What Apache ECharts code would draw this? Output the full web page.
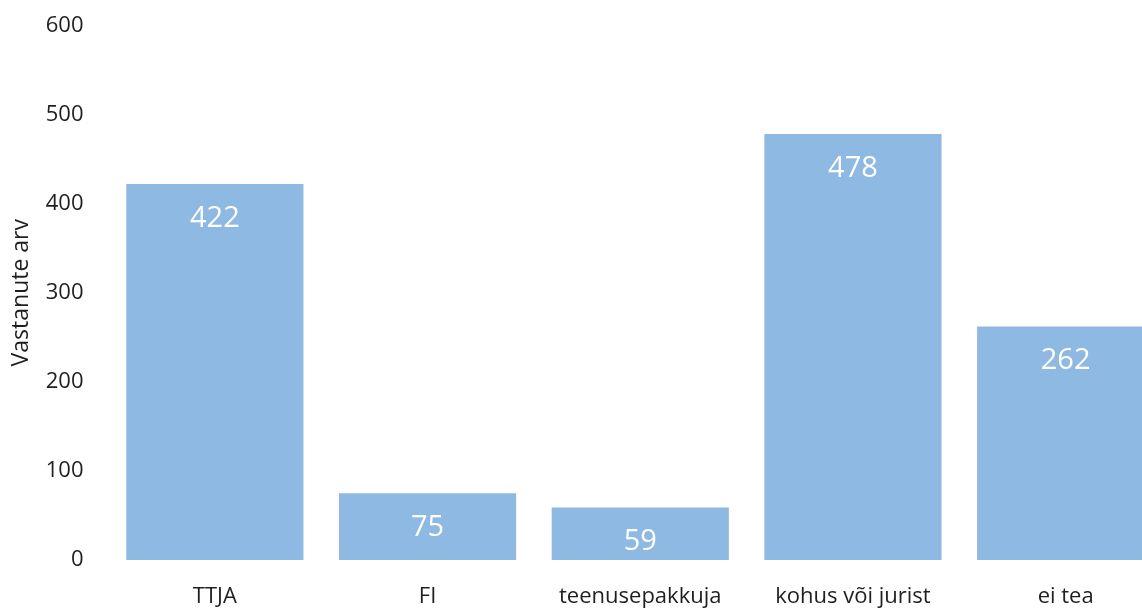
<!doctype html>
<html>
    <head>
        <meta charset="utf-8">
        <title>Vastanute arv</title>
        <style>
            html, body { margin: 0; padding: 0; background: #fff; }
            #main { width: 1142px; height: 608px; }
        </style>
    </head>
    <body>
        <div id="main"></div>
        <script src="https://cdn.jsdelivr.net/npm/echarts@6/dist/echarts.min.js"></script>
        <script>
            var categories = ['TTJA', 'FI', 'teenusepakkuja', 'kohus või jurist', 'ei tea'];
            var counts = [422, 75, 59, 478, 262];
            var yAxisName = 'Vastanute arv';

            var font = '"Open Sans", "Noto Sans", sans-serif';
            var textColor = '#1f1f1f';

            var chart = echarts.init(document.getElementById('main'), null, {
                devicePixelRatio: 1
            });

            // the last bar runs off the right edge in the original
            chart.setOption({
                animation: false,
                grid: {
                    left: 108.5,
                    right: -30,
                    top: 25.4,
                    bottom: 48,
                    containLabel: false,
                    outerBoundsMode: 'none'
                },
                xAxis: {
                    type: 'category',
                    data: categories,
                    axisLine: { show: false },
                    axisTick: { show: false },
                    axisLabel: {
                        interval: 0,
                        color: textColor,
                        fontFamily: font,
                        fontSize: 22,
                        margin: 26
                    }
                },
                yAxis: {
                    type: 'value',
                    min: 0,
                    max: 600,
                    interval: 100,
                    name: yAxisName,
                    nameLocation: 'middle',
                    nameGap: 76,
                    nameTextStyle: {
                        color: textColor,
                        fontFamily: font,
                        fontSize: 23
                    },
                    axisLine: { show: false },
                    axisTick: { show: false },
                    splitLine: { show: false },
                    axisLabel: {
                        color: textColor,
                        fontFamily: font,
                        fontSize: 22,
                        margin: 25
                    }
                },
                series: [{
                    type: 'bar',
                    data: counts,
                    barCategoryGap: '16.7%',
                    itemStyle: {
                        color: '#8db9e2'
                    },
                    label: {
                        show: true,
                        position: 'insideTop',
                        distance: 20,
                        color: '#ffffff',
                        fontFamily: font,
                        fontSize: 29
                    }
                }]
            });

            window.onresize = chart.resize;
        </script>
    </body>
</html>
